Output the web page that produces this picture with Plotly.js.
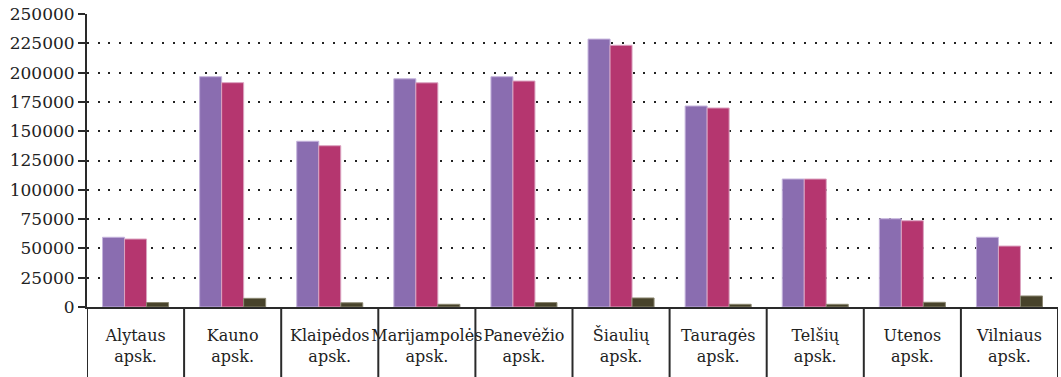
<!DOCTYPE html>
<html>
<head>
<meta charset="utf-8">
<script src="https://cdn.plot.ly/plotly-3.0.1.min.js"></script>
<style>html,body{margin:0;padding:0;background:#fff;}#chart{width:1061px;height:377px;}</style>
</head>
<body>
<div id="chart"></div>
<script>
const categories = ["Alytaus<br>apsk.", "Kauno<br>apsk.", "Klaipėdos<br>apsk.", "Marijampolės<br>apsk.", "Panevėžio<br>apsk.", "Šiaulių<br>apsk.", "Tauragės<br>apsk.", "Telšių<br>apsk.", "Utenos<br>apsk.", "Vilniaus<br>apsk."];
const series1 = [59500, 196500, 141400, 194700, 196500, 228600, 171500, 109200, 75300, 59500];
const series2 = [58000, 191400, 137600, 191300, 192800, 223300, 169800, 109200, 73600, 52000];
const series3 = [3800, 7400, 3600, 2300, 3800, 7700, 2300, 2300, 4000, 9400];
const yTicks = [0, 25000, 50000, 75000, 100000, 125000, 150000, 175000, 200000, 225000, 250000];

const FONT = "DejaVu Serif";

const traces = [
  {type: "bar", x: categories, y: series1, name: "1", marker: {color: "#8a6db0", line: {color: "#c4b3dc", width: 1}}},
  {type: "bar", x: categories, y: series2, name: "2", marker: {color: "#b5366f", line: {color: "#dba3c0", width: 1}}},
  {type: "bar", x: categories, y: series3, name: "3", marker: {color: "#48432b", line: {color: "#8a8670", width: 1}}}
];

const shapes = [];
for (let i = 0; i <= categories.length; i++) {
  shapes.push({type: "line", xref: "x", yref: "paper", x0: i - 0.5, x1: i - 0.5, y0: 0, y1: -0.3,
    line: {color: "#2a2a2a", width: 2}, layer: "above"});
}

const layout = {
  width: 1061, height: 377,
  margin: {l: 87, r: 3, t: 14, b: 70},
  paper_bgcolor: "#ffffff", plot_bgcolor: "#ffffff",
  showlegend: false,
  barmode: "group", bargap: 0.32, bargroupgap: 0,
  font: {family: FONT, size: 17, color: "#222"},
  xaxis: {
    type: "category", range: [-0.5, categories.length - 0.5],
    showline: true, linecolor: "#2a2a2a", linewidth: 2,
    ticks: "outside", ticklen: 13, tickwidth: 1, tickcolor: "#ffffff", showgrid: false, tickangle: 0,
    tickfont: {family: FONT, size: 16, color: "#222"},
    automargin: false
  },
  yaxis: {
    range: [0, 250000], tickvals: yTicks, tickformat: "d",
    showline: true, linecolor: "#2a2a2a", linewidth: 2,
    ticks: "outside", ticklen: 7, tickwidth: 2, tickcolor: "#2a2a2a",
    showgrid: true, gridcolor: "#222", gridwidth: 2, griddash: "2px,8.7px",
    zeroline: false,
    tickfont: {family: FONT, size: 17, color: "#222"},
    automargin: false
  },
  shapes: shapes
};

Plotly.newPlot("chart", traces, layout, {displayModeBar: false, staticPlot: true});
</script>
</body>
</html>
